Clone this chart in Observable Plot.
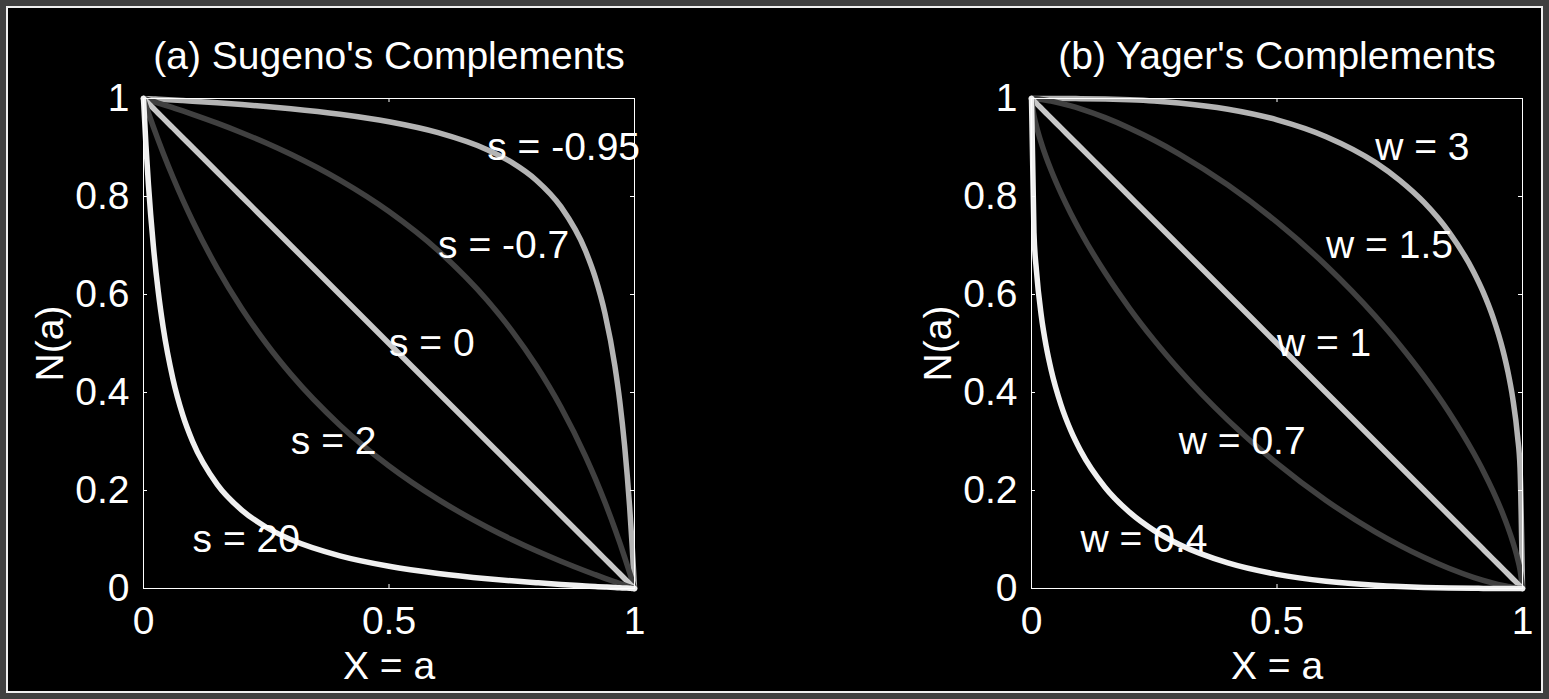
<!DOCTYPE html>
<html>
<head>
<meta charset="utf-8">
<script src="https://cdn.jsdelivr.net/npm/d3@7"></script>
<script src="https://cdn.jsdelivr.net/npm/@observablehq/plot@0.6"></script>
<style>
  html, body { margin: 0; padding: 0; background: #404040; }
  #page { position: relative; width: 1549px; height: 699px; background: #404040; overflow: hidden; }
  #inner { position: absolute; left: 6px; top: 6px; right: 6px; bottom: 6px; border: 2px solid #f0f0f0; background: #000; }
  .panel { position: absolute; top: 0; }
</style>
</head>
<body>
<div id="page">
  <div id="inner"></div>
  <div id="pa" class="panel" style="left:0px"></div>
  <div id="pb" class="panel" style="left:775px"></div>
</div>
<script>
// Sample positions along X = a
const aGrid = [0, 0.005, 0.01, 0.02, 0.03, 0.04, 0.06, 0.08, 0.1, 0.15, 0.2, 0.25, 0.3, 0.4, 0.5,
  0.6, 0.7, 0.75, 0.8, 0.85, 0.9, 0.92, 0.94, 0.96, 0.97, 0.98, 0.99, 0.995, 1];

// Sugeno complements N(a) for s = -0.95, -0.7, 0, 2, 20
const sugenoM095 = [1, 0.9997, 0.9995, 0.999, 0.9985, 0.9979, 0.9968, 0.9957, 0.9945, 0.9913, 0.9877, 0.9836, 0.979, 0.9677, 0.9524,
  0.9302, 0.8955, 0.8696, 0.8333, 0.7792, 0.6897, 0.6349, 0.5607, 0.4545, 0.3822, 0.2899, 0.1681, 0.0913, 0];
const sugenoM07 = [1, 0.9985, 0.997, 0.9939, 0.9908, 0.9877, 0.9812, 0.9746, 0.9677, 0.9497, 0.9302, 0.9091, 0.8861, 0.8333, 0.7692,
  0.6897, 0.5882, 0.5263, 0.4545, 0.3704, 0.2703, 0.2247, 0.1754, 0.122, 0.0935, 0.0637, 0.0326, 0.0165, 0];
const sugeno0 = [1, 0.995, 0.99, 0.98, 0.97, 0.96, 0.94, 0.92, 0.9, 0.85, 0.8, 0.75, 0.7, 0.6, 0.5,
  0.4, 0.3, 0.25, 0.2, 0.15, 0.1, 0.08, 0.06, 0.04, 0.03, 0.02, 0.01, 0.005, 0];
const sugeno2 = [1, 0.9851, 0.9706, 0.9423, 0.9151, 0.8889, 0.8393, 0.7931, 0.75, 0.6538, 0.5714, 0.5, 0.4375, 0.3333, 0.25,
  0.1818, 0.125, 0.1, 0.0769, 0.0556, 0.0357, 0.0282, 0.0208, 0.0137, 0.0102, 0.0068, 0.0034, 0.0017, 0];
const sugeno20 = [1, 0.9045, 0.825, 0.7, 0.6063, 0.5333, 0.4273, 0.3538, 0.3, 0.2125, 0.16, 0.125, 0.1, 0.0667, 0.0455,
  0.0308, 0.02, 0.0156, 0.0118, 0.0083, 0.0053, 0.0041, 0.003, 0.002, 0.0015, 0.001, 0.0005, 0.0002, 0];

// Yager complements N(a) for w = 3, 1.5, 1, 0.7, 0.4
const yager3 = [1, 1, 1, 1, 1, 1, 0.9999, 0.9998, 0.9997, 0.9989, 0.9973, 0.9948, 0.9909, 0.9782, 0.9565,
  0.9221, 0.8696, 0.833, 0.7874, 0.7279, 0.6471, 0.6049, 0.5533, 0.4867, 0.4437, 0.3889, 0.3097, 0.2462, 0];
const yager15 = [1, 0.9998, 0.9993, 0.9981, 0.9965, 0.9947, 0.9902, 0.9849, 0.9788, 0.9609, 0.9394, 0.9148, 0.8872, 0.8233, 0.7476,
  0.6592, 0.5558, 0.4971, 0.4325, 0.3604, 0.2775, 0.24, 0.1988, 0.1522, 0.1259, 0.0962, 0.0607, 0.0383, 0];
const yager1 = [1, 0.995, 0.99, 0.98, 0.97, 0.96, 0.94, 0.92, 0.9, 0.85, 0.8, 0.75, 0.7, 0.6, 0.5,
  0.4, 0.3, 0.25, 0.2, 0.15, 0.1, 0.08, 0.06, 0.04, 0.03, 0.02, 0.01, 0.005, 0];
const yager07 = [1, 0.9652, 0.9436, 0.9089, 0.8796, 0.8534, 0.8068, 0.7654, 0.7276, 0.6442, 0.5714, 0.5064, 0.4474, 0.3436, 0.2552,
  0.1796, 0.1157, 0.088, 0.0631, 0.0413, 0.0229, 0.0166, 0.0109, 0.0061, 0.004, 0.0023, 0.0008, 0.0003, 0];
const yager04 = [1, 0.7262, 0.6496, 0.5563, 0.4937, 0.4461, 0.375, 0.3224, 0.2811, 0.2062, 0.1553, 0.1182, 0.0903, 0.0522, 0.0289,
  0.0147, 0.0065, 0.0039, 0.0021, 0.001, 0.0004, 0.0002, 0.0001, 0, 0, 0, 0, 0, 0];

// Curve labels and where they sit (in data units)
const sugenoLabels = ["s = -0.95", "s = -0.7", "s = 0", "s = 2", "s = 20"];
const yagerLabels = ["w = 3", "w = 1.5", "w = 1", "w = 0.7", "w = 0.4"];
const labelA = [0.7, 0.6, 0.5, 0.3, 0.1];
const labelN = [0.9, 0.7, 0.5, 0.3, 0.1];

// Line shades, one per curve in drawing order
const curveColors = ["#b4b4b4", "#404040", "#c8c8c8", "#404040", "#f0f0f0"];

// Axis ticks
const xTicks = [0, 0.5, 1];
const yTicks = [0, 0.2, 0.4, 0.6, 0.8, 1];
const xInnerTicks = [0.5];
const yInnerTicks = [0.2, 0.4, 0.6, 0.8];

const FONT = 39;
const FAMILY = "'Liberation Sans', Arial, Helvetica, sans-serif";

function panel({title, curves, labels, marginLeft, marginRight}) {
  const width = 774, height = 699, marginTop = 98, marginBottom = 111;
  const plotW = width - marginLeft - marginRight;
  const plotH = height - marginTop - marginBottom;
  const marks = [];
  curves.forEach((values, i) => {
    marks.push(Plot.line(aGrid.map((a, j) => ({a, n: values[j]})), {
      x: "a", y: "n", stroke: curveColors[i], strokeWidth: 5.5,
      curve: "monotone-x", strokeLinejoin: "round", strokeLinecap: "round"
    }));
  });
  marks.push(Plot.frame({stroke: "white", strokeWidth: 1}));
  marks.push(Plot.tickX(xInnerTicks, {x: d => d, stroke: "white", insetTop: plotH - 4}));
  marks.push(Plot.tickX(xInnerTicks, {x: d => d, stroke: "white", insetBottom: plotH - 4}));
  marks.push(Plot.tickY(yInnerTicks, {y: d => d, stroke: "white", insetRight: plotW - 4}));
  marks.push(Plot.tickY(yInnerTicks, {y: d => d, stroke: "white", insetLeft: plotW - 4}));
  marks.push(Plot.axisX(xTicks, {tickSize: 0, tickPadding: 18, fontSize: FONT, tickFormat: d => String(d), label: null, fill: "white"}));
  marks.push(Plot.axisY(yTicks, {tickSize: 0, tickPadding: 14, fontSize: FONT, tickFormat: d => String(d), label: null, fill: "white"}));
  marks.push(Plot.text(labels.map((t, i) => ({t, a: labelA[i], n: labelN[i]})), {
    x: "a", y: "n", text: "t", textAnchor: "start", fill: "white", fontSize: FONT
  }));
  marks.push(Plot.text([title], {frameAnchor: "top", lineAnchor: "middle", dy: -42, fill: "white", fontSize: FONT}));
  marks.push(Plot.text(["X = a"], {frameAnchor: "bottom", lineAnchor: "middle", dy: 78, fill: "white", fontSize: FONT}));
  marks.push(Plot.text(["N(a)"], {frameAnchor: "left", lineAnchor: "middle", textAnchor: "middle", rotate: -90, dx: -93, fill: "white", fontSize: FONT}));
  return Plot.plot({
    width, height, marginTop, marginBottom, marginLeft, marginRight,
    x: {domain: [0, 1]},
    y: {domain: [0, 1]},
    style: {background: "transparent", color: "white", fontFamily: FAMILY, overflow: "visible", maxWidth: "none"},
    marks
  });
}

document.getElementById("pa").appendChild(panel({
  title: "(a) Sugeno's Complements",
  curves: [sugenoM095, sugenoM07, sugeno0, sugeno2, sugeno20],
  labels: sugenoLabels,
  marginLeft: 143, marginRight: 140
}));
document.getElementById("pb").appendChild(panel({
  title: "(b) Yager's Complements",
  curves: [yager3, yager15, yager1, yager07, yager04],
  labels: yagerLabels,
  marginLeft: 256, marginRight: 27
}));
</script>
</body>
</html>
